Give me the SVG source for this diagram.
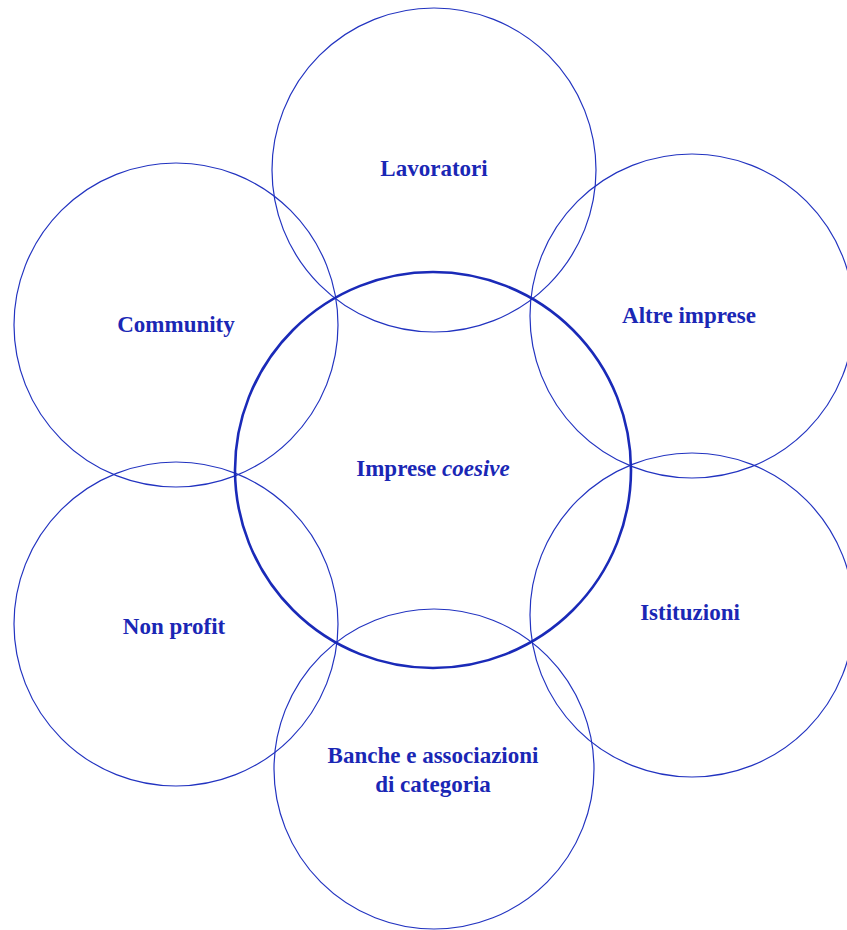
<svg xmlns="http://www.w3.org/2000/svg" width="847" height="930" viewBox="0 0 847 930">
<style>
.c{fill:none;stroke:#2233c0;stroke-width:1.2}
.m{fill:none;stroke:#1a2ab8;stroke-width:2.6}
text{font-family:"Liberation Serif","DejaVu Serif",serif;font-weight:bold;font-size:23px;fill:#1a27b5;text-anchor:middle}
</style>
<rect width="847" height="930" fill="#ffffff"/>
<g id="lavoratori"><circle class="c" cx="434" cy="170" r="162"/><text x="434" y="176">Lavoratori</text></g>
<g id="community"><circle class="c" cx="176" cy="325" r="162"/><text x="176" y="332">Community</text></g>
<g id="altre-imprese"><circle class="c" cx="692" cy="316" r="162"/><text x="689" y="323">Altre imprese</text></g>
<g id="non-profit"><circle class="c" cx="176" cy="624" r="162"/><text x="174" y="634">Non profit</text></g>
<g id="istituzioni"><circle class="c" cx="692" cy="615" r="162"/><text x="690" y="620">Istituzioni</text></g>
<g id="banche"><circle class="c" cx="434" cy="769" r="160"/><text x="433" y="763">Banche e associazioni</text><text x="433" y="792">di categoria</text></g>
<g id="impreso-coesive"><circle class="m" cx="433" cy="470" r="198"/><text x="433" y="476">Imprese <tspan font-style="italic">coesive</tspan></text></g>
<g id="connectors"></g>
</svg>
